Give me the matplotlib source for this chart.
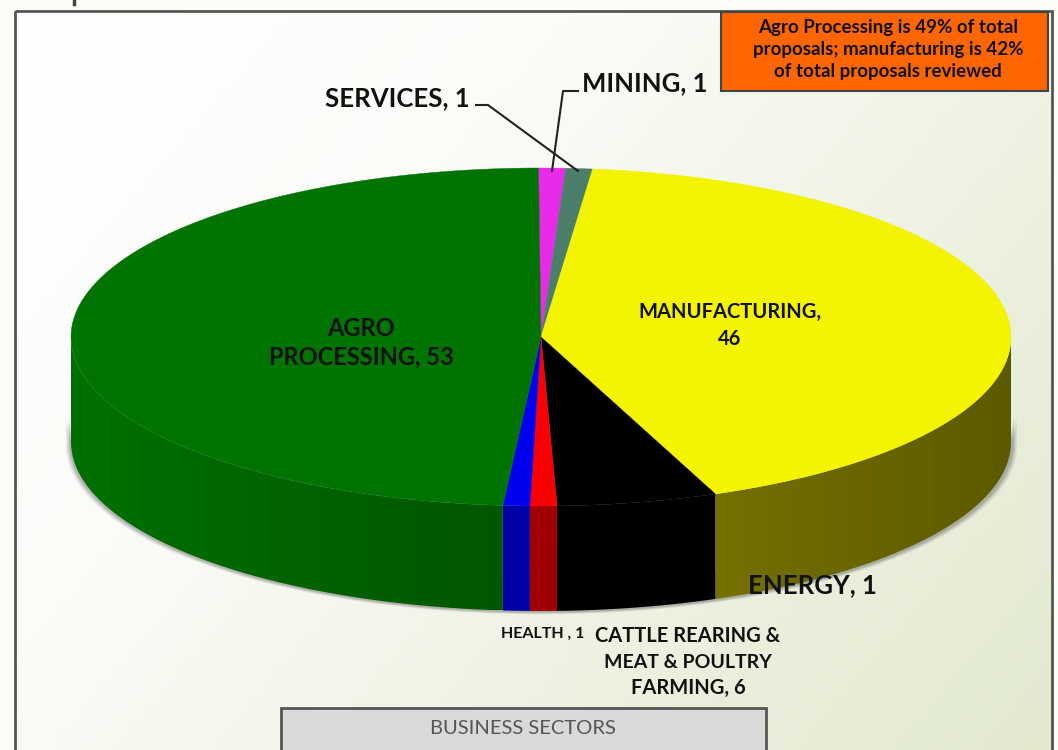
import numpy as np
import matplotlib.pyplot as plt
from matplotlib.patches import Rectangle, Polygon
from matplotlib.colors import LinearSegmentedColormap, to_rgb

# dados do grafico, sentido horario a partir do topo #
sectors = ["SERVICES", "MINING", "MANUFACTURING", "CATTLE", "ENERGY", "HEALTH", "AGRO"]
values = [1, 1, 46, 6, 1, 1, 53]
top_colors = ["#e82be8", "#4b7f6b", "#f4f300", "#000000", "#fb0000", "#0000f0", "#007300"]
side_start = ["#a01ea0", "#355a4c", "#5c5a00", "#000000", "#a00000", "#0000a8", "#005700"]
side_end = ["#a01ea0", "#355a4c", "#757100", "#000000", "#a00000", "#0000a8", "#007000"]

# geometria da pizza em pixels #
cx, cy, rx, ry, depth = 541, 337, 470, 169, 105
start = np.radians(-0.3)

fig = plt.figure(figsize=(10.58, 7.5), dpi=100, facecolor="#fdfdf8")
ax = fig.add_axes([0, 0, 1, 1])
ax.axis("off")
plt.rcParams['font.family'] = ['Lato', 'DejaVu Sans']

# fundo com degrade #
xx, yy = np.meshgrid(np.linspace(0, 1, 200), np.linspace(0, 1, 150))
grad = 0.62 * xx + 0.38 * yy
cmap = LinearSegmentedColormap.from_list("bg", ["#ffffff", "#fbfcf8", "#eef2e2", "#e2e9cf"])
ax.imshow(grad, extent=[15, 1052, 750, 11], cmap=cmap, aspect="auto", vmin=0, vmax=1, zorder=0)
ax.add_patch(Rectangle((15, 11), 1037, 745, fill=False, ec="#555555", lw=2, zorder=1))
ax.plot([74, 74], [0, 4], color="#444444", lw=2.5, zorder=1)


def ell(theta, dy=0):
    return cx + rx * np.sin(theta), cy - ry * np.cos(theta) + dy


# angulos das fatias #
edges = start + np.concatenate([[0], np.cumsum(values)]) / np.sum(values) * 2 * np.pi

# sombra leve da lateral #
t = np.linspace(np.pi / 2, 3 * np.pi / 2, 200)
for off, a in zip([7, 5, 3], [0.10, 0.14, 0.20]):
    x, y = ell(t, depth + off * 0.4)
    ax.fill_between(x + off * np.sin(t) * 0.8, y - 30, y, color="#444444", alpha=a, lw=0, zorder=2)

# lateral da pizza, com degrade recortado #
for i in range(len(values)):
    a0 = max(edges[i], np.pi / 2)
    a1 = min(edges[i + 1], 3 * np.pi / 2)
    if a1 <= a0:
        continue
    tt = np.linspace(a0, a1, 120)
    x, y = ell(tt)
    poly = Polygon(np.column_stack([np.r_[x, x[::-1]], np.r_[y, (y + depth)[::-1]]]),
                   fc="none", ec="none", transform=ax.transData)
    ax.add_patch(poly)
    c0, c1 = np.array(to_rgb(side_start[i])), np.array(to_rgb(side_end[i]))
    f = np.linspace(0, 1, 200)[:, None]
    strip = (c0 + (c1 - c0) * f)[None, :, :]
    im = ax.imshow(strip, extent=[x[0], x[-1], y.max() + depth, y.min()], aspect="auto", zorder=3)
    im.set_clip_path(poly)

# topo da pizza #
for i in range(len(values)):
    tt = np.linspace(edges[i], edges[i + 1], max(4, int((edges[i + 1] - edges[i]) * 80)))
    x, y = ell(tt)
    ax.add_patch(Polygon(np.column_stack([np.r_[cx, x], np.r_[cy, y]]),
                         fc=top_colors[i], ec=top_colors[i], lw=0.3, zorder=4))

# linhas de chamada #
ax.plot([476, 488, 578], [105, 105, 171], color="#222222", lw=1.5, zorder=5)
ax.plot([578, 563, 552], [91, 91, 171], color="#222222", lw=1.5, zorder=5)

# rotulos #
txt = dict(color="#111111", fontweight="bold", ha="center", va="center", zorder=6)
ax.text(397, 98, "SERVICES, 1", fontsize=18.5, **txt)
ax.text(645, 83, "MINING, 1", fontsize=18.5, **txt)
ax.text(361, 329, "AGRO", fontsize=17, **txt)
ax.text(361, 357, "PROCESSING, 53", fontsize=17, **txt)
ax.text(730, 312, "MANUFACTURING,", fontsize=14.5, **txt)
ax.text(730, 339, "46", fontsize=14.5, **txt)
ax.text(812, 585, "ENERGY, 1", fontsize=18.5, **txt)
ax.text(543, 634, "HEALTH , 1", fontsize=11.5, **txt)
ax.text(688, 636, "CATTLE REARING &", fontsize=14.5, **txt)
ax.text(688, 662, "MEAT & POULTRY", fontsize=14, **txt)
ax.text(688, 688, "FARMING, 6", fontsize=14.5, **txt)

# caixa laranja #
ax.add_patch(Rectangle((721, 12), 327, 79, fc="#ff6600", ec="#444444", lw=1.5, zorder=5))
ax.text(888, 27, "Agro Processing is 49% of total", fontsize=13.5, **txt)
ax.text(888, 50, "proposals; manufacturing is 42%", fontsize=13.5, **txt)
ax.text(888, 72, "of total proposals reviewed", fontsize=13.5, **txt)

# caixa do titulo do eixo #
ax.add_patch(Rectangle((281, 708), 485, 50, fc="#d9d9d9", ec="#555555", lw=2, zorder=5))
ax.text(523, 729, "BUSINESS SECTORS", fontsize=14.5, color="#555555", ha="center", va="center", zorder=6)

ax.set_xlim(0, 1058)
ax.set_ylim(750, 0)
fig.savefig("out.png", dpi=100)
